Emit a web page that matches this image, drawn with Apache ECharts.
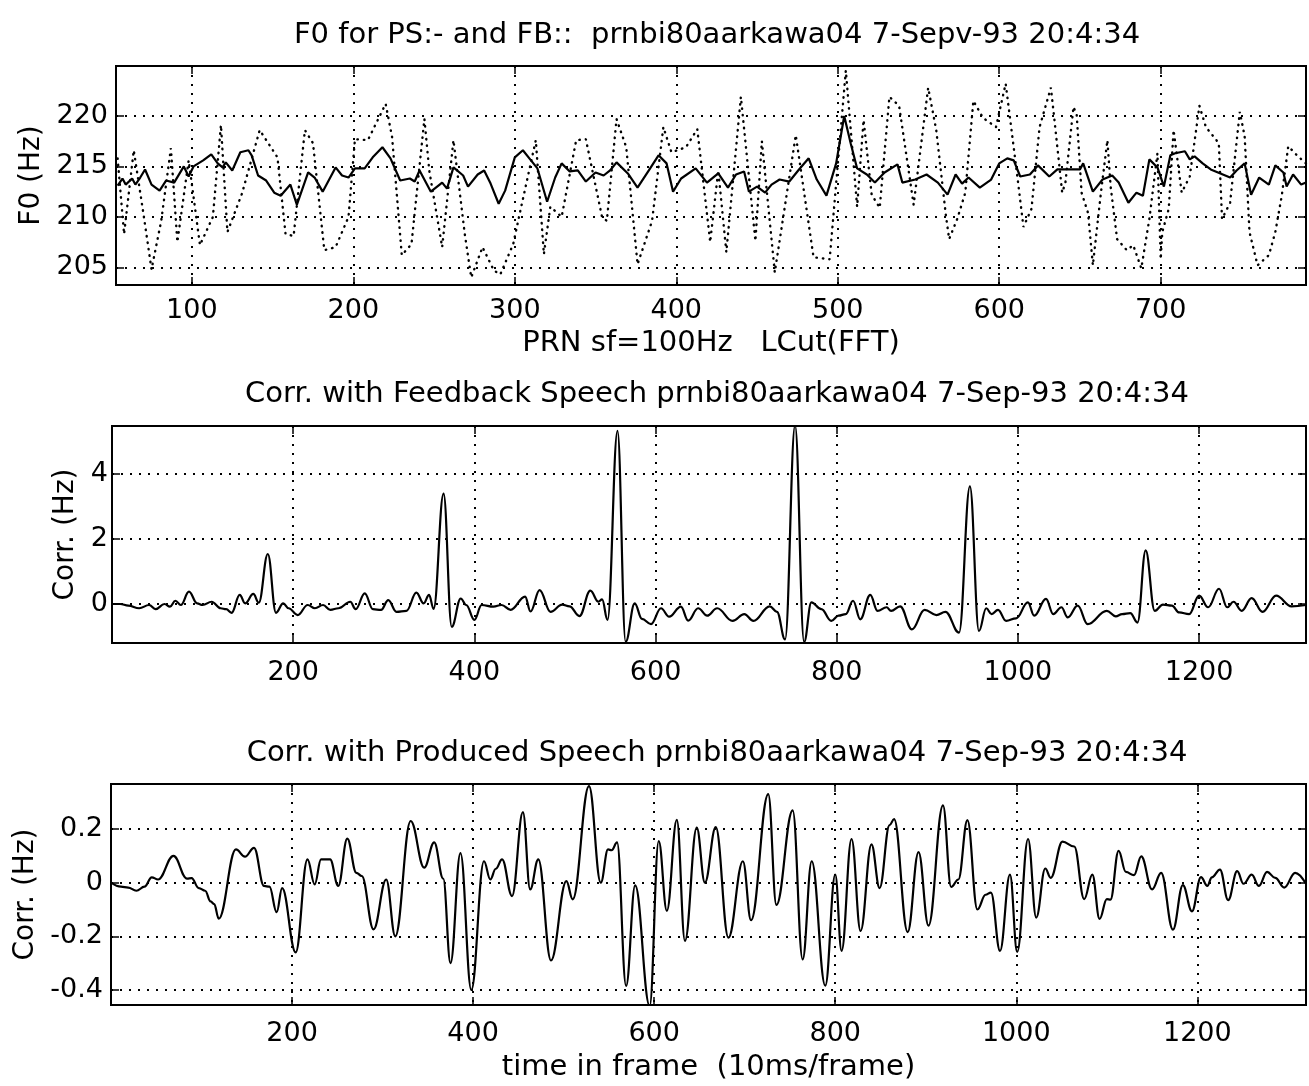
<!DOCTYPE html>
<html>
<head>
<meta charset="utf-8">
<title>F0 and correlation</title>
<script src="https://cdn.jsdelivr.net/npm/echarts@6/dist/echarts.min.js"></script>
<style>
  html, body { margin: 0; padding: 0; background: #fff; }
  #chart { width: 1309px; height: 1086px; }
</style>
</head>
<body>
<div id="chart"></div>
<script>
// F0 panel: solid = produced speech (PS), dotted = feedback (FB)
const psFrame = [54,57,59,63,65,68,71,75,80,84,89,95,98,101,107,112,116,119,121,125,130,135,137,141,146,151,155,161,165,172,176,181,189,193,197,201,207,212,218,223,229,235,238,241,248,255,258,262,268,271,277,281,285,290,294,300,305,309,314,320,325,329,334,339,344,350,355,359,363,370,376,383,389,394,398,403,412,419,426,432,437,442,445,450,455,459,464,470,476,482,487,493,499,504,508,512,518,523,529,537,540,548,555,562,568,573,577,581,588,595,600,605,609,613,619,624,631,636,643,650,652,658,664,670,674,680,685,689,693,698,702,706,709,715,718,721,726,731,737,743,747,752,756,761,767,771,776,778,782,787,790];
const psF0 = [213.1,213.8,213.2,213.8,213.2,213.9,214.7,213.2,212.6,213.6,213.4,215,214,215,215.6,216.2,215.3,214.9,215.4,214.6,216.4,216.6,216.1,214.1,213.6,212.4,212.1,213.2,211.2,214.4,213.9,212.5,214.9,214.1,213.9,214.8,214.8,215.9,216.9,215.8,213.6,213.8,213.5,214.6,212.5,213.4,212.8,214.9,214.1,213,214.2,214.6,213.3,211.3,212.6,215.9,216.6,215.8,214.8,211.5,213.9,215.3,214.5,214.6,213.5,214.4,214.1,214.6,215.4,214.3,212.9,214.6,216.1,215.3,212.5,213.8,214.8,213.4,214.3,212.9,214.2,214.5,212.5,213,212.4,213.2,213.7,213.5,214.7,215.8,213.7,212.1,215.3,220,217.3,214.8,214.2,213.4,214.4,215.2,213.4,213.7,214.2,213.4,212.2,214.2,213.3,213.9,212.9,213.7,215.3,215.8,215.6,214,214.2,215.1,214,214.7,214.7,214.7,215.3,212.5,213.7,214.1,213.4,211.4,212.4,212.1,215.7,214.9,213,216.1,216.3,216.5,215.7,216,215.3,214.7,214.3,213.9,214.6,215.3,212.2,213.9,213.2,215.1,214.4,213,214.2,213.2,213.4];
const fbFrame = [54,58,64,70,75,81,87,91,98,105,113,118,122,131,142,153,158,163,170,175,182,189,197,201,209,220,224,230,236,244,247,255,262,269,273,280,287,291,299,303,313,318,322,329,338,344,354,357,363,369,376,385,392,397,406,413,421,426,431,440,449,453,461,474,485,495,505,512,516,521,526,532,538,547,556,561,567,569,574,579,584,590,598,604,611,615,620,625,632,634,639,641,646,648,651,655,658,663,667,669,673,679,683,688,693,698,700,701,705,708,713,718,724,728,736,738,743,749,752,755,760,767,771,775,779,785,790];
const fbF0 = [215.8,208.3,216.6,210.3,204.8,209.6,216.8,207.5,215.6,207.2,210,219.1,208.5,212.3,218.6,215.9,208.3,208.1,218.6,217.3,206.7,207,210,217.7,217.6,221.2,217.9,206.2,207.3,219.7,214.6,207,217.6,208.3,204,207,204.7,204.3,207.3,210.3,217.6,206.3,211,210,217.6,217.7,210,209.6,219.7,216.9,205.3,209.6,218.9,216.4,216.9,218.7,207.5,214.6,206.5,221.9,207.6,217.5,204.5,218.1,206,205.8,224.5,211,219.6,212.2,210.9,221.9,221,211.2,222.8,218.6,210.1,207.8,209.8,212.4,221.5,219.8,218.9,223.2,214.3,209,210.8,218.9,222.8,219.9,212.4,213.4,220.9,220.1,212.4,210.4,205.2,212.4,217.6,213,207.8,206.7,207.2,204.9,209.8,216.3,205.8,208.5,210.8,218.6,212.4,214,221,218.9,217.3,209.8,211.4,220.4,218,208.5,205.2,206.2,208.5,212.1,217,216,215.3];

// correlation with feedback speech
const fbCorrFrame = [2,9,18,30,41,48,58,64,70,76,85,94,100,110,120,126,132,141,147,156,162,172,181,189,195,205,216,224,233,241,250,263,269,279,288,297,305,314,325,336,344,350,355,366,375,385,391,400,408,421,430,440,456,462,472,484,497,505,516,528,537,541,547,558,567,577,585,595,606,615,628,636,647,657,668,685,698,708,726,734,743,754,764,772,783,794,802,810,818,826,837,845,855,860,870,883,897,910,920,935,947,957,965,971,978,987,998,1011,1018,1031,1039,1048,1055,1066,1077,1098,1108,1115,1124,1132,1141,1151,1160,1170,1178,1189,1200,1210,1222,1231,1238,1247,1258,1270,1285,1302,1318];
const fbCorr = [0,0,-0.05,-0.13,-0.03,-0.16,0,-0.08,0.1,-0.03,0.38,0.02,-0.03,0.07,-0.13,-0.16,-0.27,0.28,0.02,0.31,0.04,1.54,-0.27,0.02,-0.13,-0.34,-0.03,-0.13,-0.03,-0.18,-0.13,0.07,-0.16,0.33,-0.16,-0.18,0.12,-0.24,-0.21,0.35,0.02,0.28,-0.15,3.4,-0.7,0.17,-0.03,-0.49,-0.03,-0.08,-0.03,-0.18,0.23,-0.23,0.43,-0.24,-0.02,-0.07,-0.37,0.41,0.07,0.14,-0.49,5.33,-1.16,0.02,-0.46,-0.62,-0.13,-0.39,-0.08,-0.51,-0.13,-0.36,-0.13,-0.52,-0.31,-0.52,-0.07,-0.24,-1.09,5.5,-1.17,0.05,-0.16,-0.52,-0.36,-0.31,0.1,-0.47,0.28,-0.21,-0.1,-0.21,-0.07,-0.78,-0.18,-0.34,-0.24,-0.88,3.62,-0.83,-0.13,-0.31,-0.18,-0.52,-0.44,0.05,-0.36,0.16,-0.31,-0.1,-0.41,-0.05,-0.62,-0.21,-0.38,-0.31,-0.28,-0.57,1.65,-0.21,-0.02,-0.05,-0.26,-0.31,0.26,-0.1,0.47,-0.1,0.07,-0.21,0.18,-0.24,0.26,-0.07,-0.03];

// correlation with produced speech
const prodCorrFrame = [0,11,19,28,37,45,52,69,84,89,97,104,110,114,119,138,148,158,169,175,183,189,204,217,225,232,242,251,261,271,277,290,304,314,331,346,357,367,375,386,398,412,419,425,432,443,455,463,472,486,503,510,528,541,549,553,559,569,579,595,605,614,625,634,647,656,668,682,698,707,726,735,753,764,774,789,800,807,818,828,840,849,860,865,880,892,903,919,928,936,946,957,966,972,982,993,1001,1013,1022,1032,1038,1051,1064,1075,1084,1092,1100,1104,1113,1121,1130,1138,1150,1160,1173,1184,1194,1204,1211,1216,1225,1234,1244,1251,1260,1268,1277,1286,1296,1308,1320];
const prodCorr = [0,-0.015,-0.018,-0.03,-0.015,0.02,0.012,0.1,0.015,0.017,-0.02,-0.03,-0.07,-0.08,-0.134,0.124,0.097,0.13,-0.012,-0.015,-0.11,-0.02,-0.26,0.087,-0.006,0.087,0.087,-0.012,0.164,0.037,0.025,-0.174,0.012,-0.2,0.23,0.056,0.15,0.015,-0.3,0.11,-0.4,0.08,0.012,0.052,0.087,-0.05,0.263,-0.025,0.087,-0.29,0.006,-0.062,0.36,0,0.124,0.121,0.15,-0.385,-0.01,-0.46,0.155,-0.105,0.234,-0.217,0.205,0,0.207,-0.205,0.08,-0.14,0.33,-0.083,0.27,-0.286,0.08,-0.384,0.03,-0.254,0.163,-0.18,0.143,-0.02,0.215,0.237,-0.184,0.114,-0.16,0.288,-0.016,0.012,0.233,-0.1,-0.045,-0.037,-0.254,0.03,-0.258,0.163,-0.13,0.053,0.018,0.153,0.135,-0.061,0.03,-0.135,-0.061,-0.063,0.119,0.04,0.028,0.098,-0.025,0.037,-0.175,-0.009,-0.107,0.021,-0.012,0.02,0.049,-0.065,0.043,-0.004,0.03,-0.012,0.04,0.018,-0.018,0.037,-0.004];

// tick labels shown on each axis
const f0FrameTicks = [100, 200, 300, 400, 500, 600, 700];
const f0Ticks = [205, 210, 215, 220];
const frameTicks = [200, 400, 600, 800, 1000, 1200];
const fbCorrTicks = [0, 2, 4];
const prodCorrTicks = [-0.4, -0.2, 0, 0.2];

const FONT = 'DejaVu Sans';
const zip = (xs, ys) => xs.map((x, i) => [x, ys[i]]);
const only = (ticks) => (v) => ticks.some(t => Math.abs(t - v) < 1e-6) ? String(v) : '';

const gridLine = () => ({ show: true, lineStyle: { color: '#000', type: [2, 7], width: 2 } });
const tick = () => ({ show: true, inside: true, length: 8, lineStyle: { color: '#000', width: 1.5 } });
// onZero off, otherwise an axis jumps to the other axis' zero and its ticks land in the wrong place
const axisLine = () => ({ show: false, onZero: false });
const hidden = () => ({ show: false });

const grids = [
  { left: 116, top: 66, width: 1193, height: 219 },
  { left: 112, top: 426, width: 1197, height: 217 },
  { left: 111, top: 784, width: 1198, height: 221 }
].map(g => ({ ...g, show: true, borderColor: '#000', borderWidth: 2, backgroundColor: 'transparent' }));

const xRanges = [
  { min: 53, max: 790, splitNumber: 7, ticks: f0FrameTicks, name: 'PRN sf=100Hz   LCut(FFT)', gap: 44, margin: 12 },
  { min: 0, max: 1318, interval: 200, ticks: frameTicks, name: '', gap: 0, margin: 16 },
  { min: 0, max: 1320, interval: 200, ticks: frameTicks, name: 'time in frame  (10ms/frame)', gap: 48, margin: 15 }
];
const yRanges = [
  { min: 203.25, max: 224.95, splitNumber: 4, ticks: f0Ticks, name: 'F0 (Hz)', gap: 64, margin: 8 },
  { min: -1.2, max: 5.48, splitNumber: 3, ticks: fbCorrTicks, name: 'Corr. (Hz)', gap: 30, margin: 4 },
  { min: -0.456, max: 0.368, splitNumber: 4, ticks: prodCorrTicks, name: 'Corr. (Hz)', gap: 68, margin: 8 }
];

const xAxis = [];
const yAxis = [];
xRanges.forEach((r, i) => {
  xAxis.push({
    type: 'value', gridIndex: i, position: 'bottom', min: r.min, max: r.max, interval: r.interval, splitNumber: r.splitNumber,
    name: r.name, nameLocation: 'middle', nameGap: r.gap,
    nameTextStyle: { color: '#000', fontSize: 29, fontFamily: FONT },
    axisLine: axisLine(), axisTick: tick(), splitLine: gridLine(),
    axisLabel: { color: '#000', fontSize: 27, fontFamily: FONT, margin: r.margin, formatter: only(r.ticks), showMinLabel: true, showMaxLabel: true }
  });
  // MATLAB draws ticks on the top edge too
  xAxis.push({
    type: 'value', gridIndex: i, position: 'top', min: r.min, max: r.max, interval: r.interval, splitNumber: r.splitNumber,
    axisLine: axisLine(), axisTick: tick(), splitLine: hidden(), axisLabel: hidden()
  });
});
yRanges.forEach((r, i) => {
  yAxis.push({
    type: 'value', gridIndex: i, position: 'left', min: r.min, max: r.max, splitNumber: r.splitNumber,
    name: r.name, nameLocation: 'middle', nameGap: r.gap,
    nameTextStyle: { color: '#000', fontSize: 28, fontFamily: FONT },
    axisLine: axisLine(), axisTick: tick(), splitLine: gridLine(),
    axisLabel: { color: '#000', fontSize: 27, fontFamily: FONT, margin: r.margin, formatter: only(r.ticks) }
  });
  yAxis.push({
    type: 'value', gridIndex: i, position: 'right', min: r.min, max: r.max, splitNumber: r.splitNumber,
    axisLine: axisLine(), axisTick: tick(), splitLine: hidden(), axisLabel: hidden()
  });
});

const titleStyle = { color: '#000', fontSize: 29, fontWeight: 'normal', fontFamily: FONT };
const titles = [
  { text: 'F0 for PS:- and FB::  prnbi80aarkawa04 7-Sepv-93 20:4:34', top: 16 },
  { text: 'Corr. with Feedback Speech prnbi80aarkawa04 7-Sep-93 20:4:34', top: 375 },
  { text: 'Corr. with Produced Speech prnbi80aarkawa04 7-Sep-93 20:4:34', top: 734 }
].map(t => ({ ...t, left: 712, textAlign: 'center', textStyle: titleStyle }));

const solid = { color: '#000', width: 2.2 };

const chart = echarts.init(document.getElementById('chart'), null, { renderer: 'canvas' });
chart.setOption({
  backgroundColor: '#fff',
  animation: false,
  title: titles,
  grid: grids,
  xAxis: xAxis,
  yAxis: yAxis,
  series: [
    {
      name: 'FB', type: 'line', xAxisIndex: 0, yAxisIndex: 0, data: zip(fbFrame, fbF0),
      showSymbol: false, lineStyle: { color: '#000', width: 2.4, type: [0.5, 6], cap: 'round' }
    },
    {
      name: 'PS', type: 'line', xAxisIndex: 0, yAxisIndex: 0, data: zip(psFrame, psF0),
      showSymbol: false, lineStyle: solid
    },
    {
      name: 'Feedback', type: 'line', xAxisIndex: 2, yAxisIndex: 2, data: zip(fbCorrFrame, fbCorr),
      showSymbol: false, smooth: 0.4, smoothMonotone: 'x', lineStyle: solid
    },
    {
      name: 'Produced', type: 'line', xAxisIndex: 4, yAxisIndex: 4, data: zip(prodCorrFrame, prodCorr),
      showSymbol: false, smooth: 0.4, smoothMonotone: 'x', lineStyle: solid
    }
  ]
});
</script>
</body>
</html>
